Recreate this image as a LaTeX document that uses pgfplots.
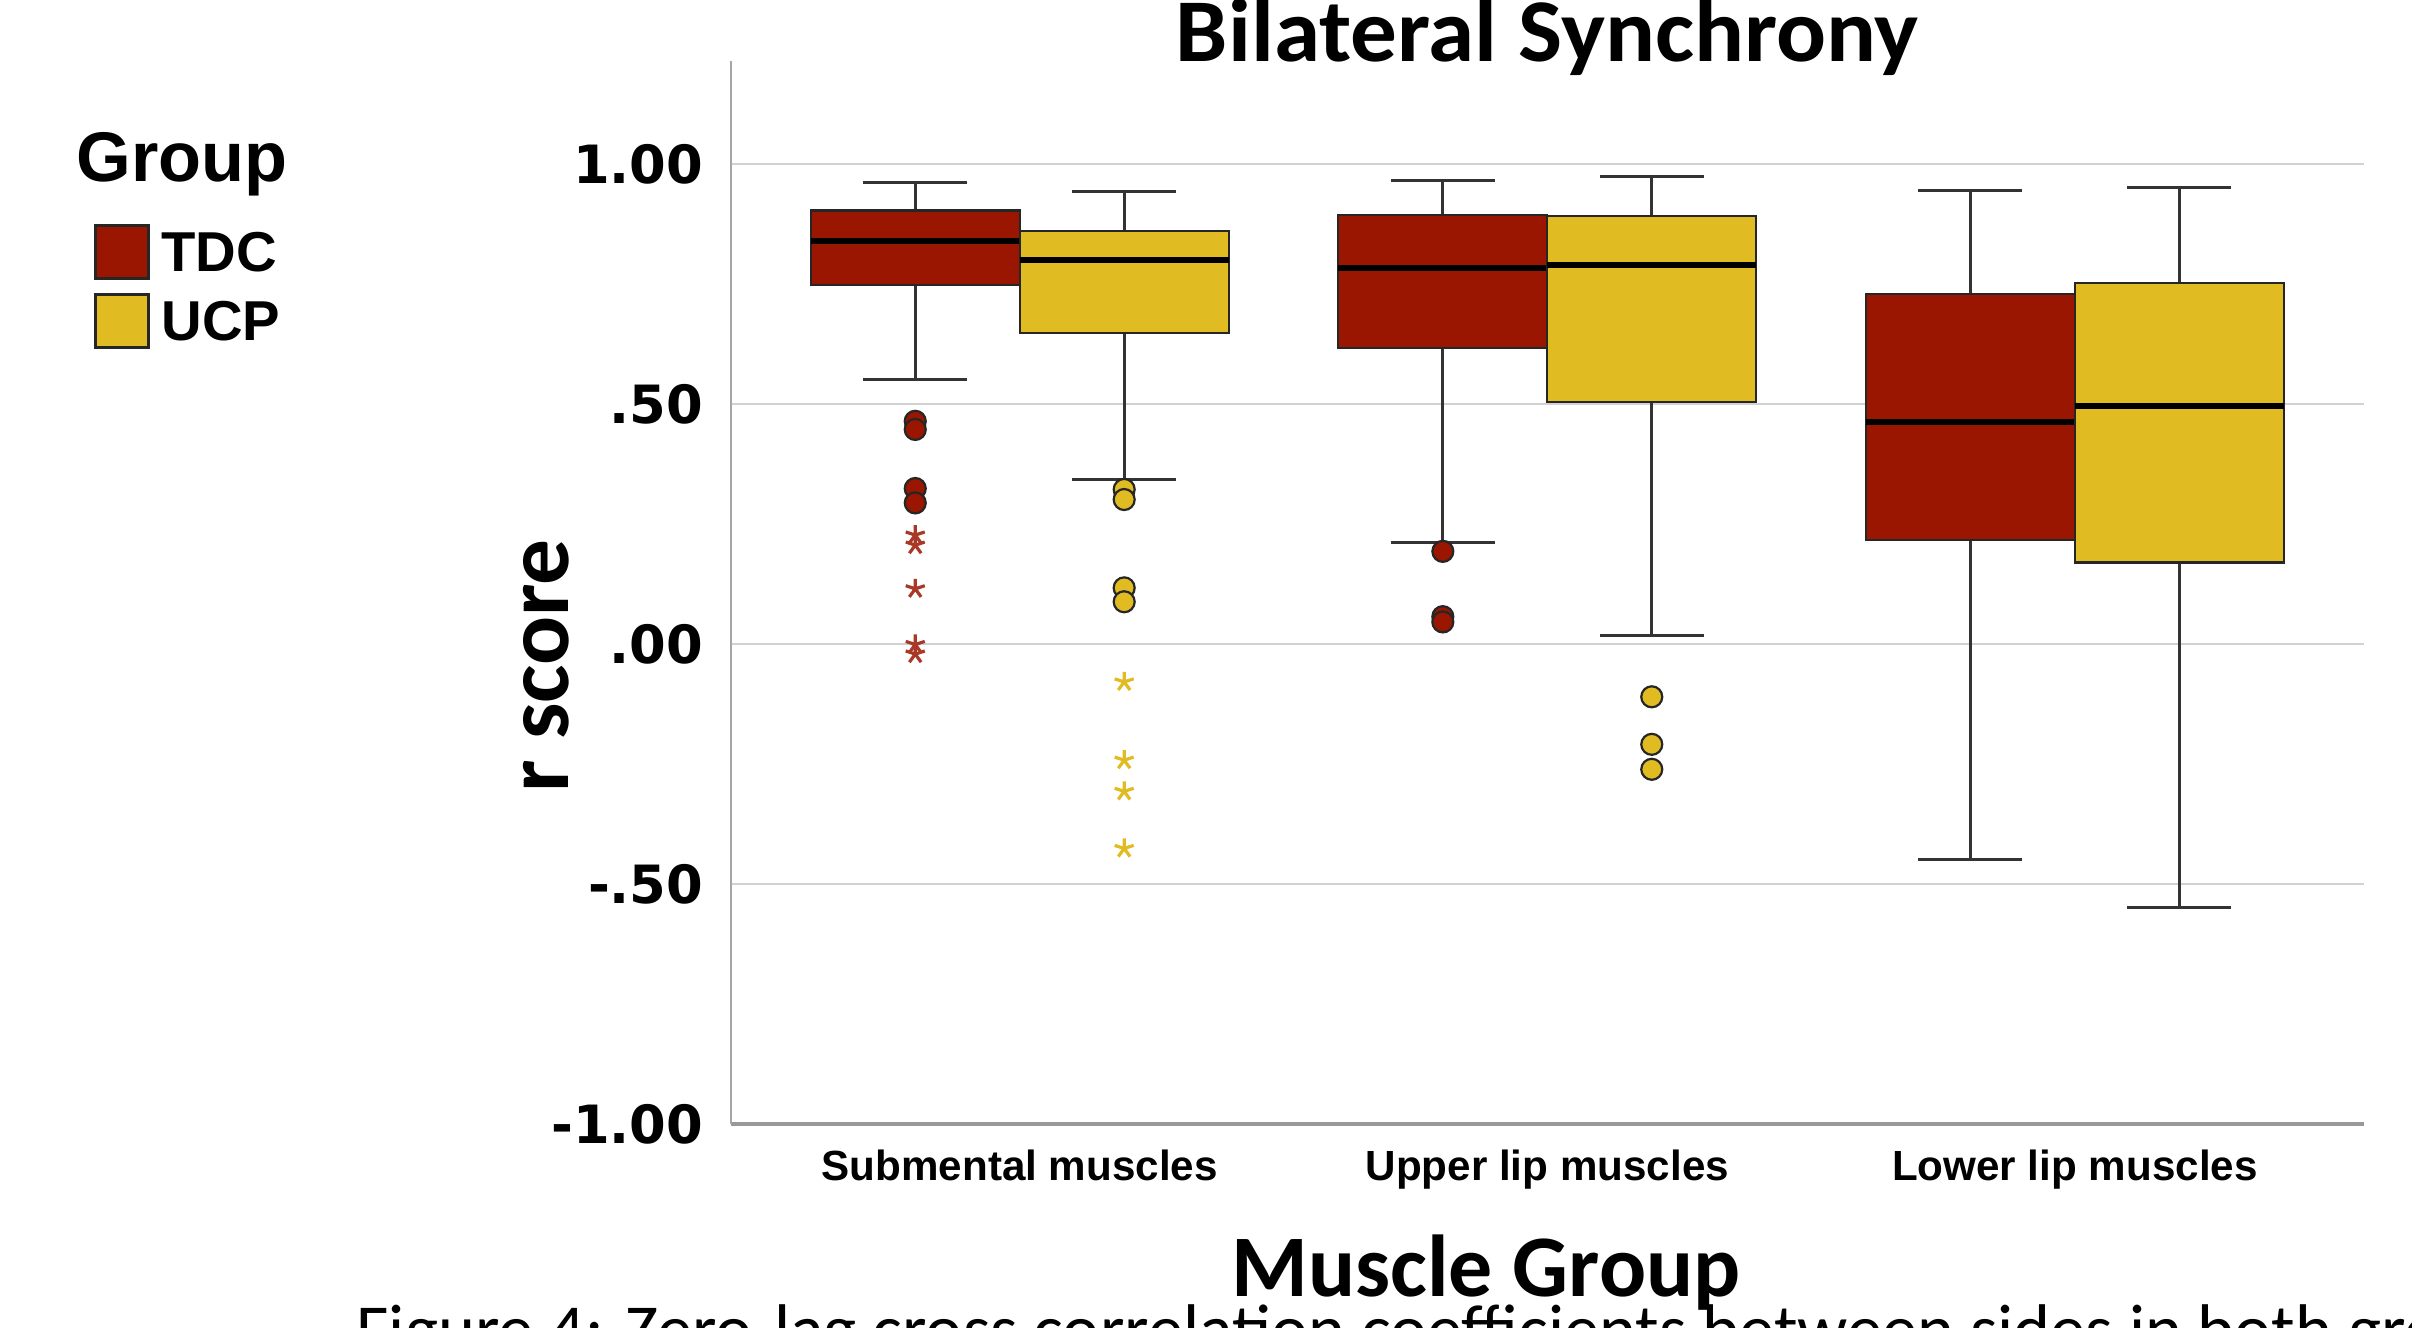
\documentclass[border=0pt]{standalone}
\usepackage{pgfplots}
\pgfplotsset{compat=1.18}
\usepgfplotslibrary{statistics}
\usepackage{fontspec}
\setmainfont{Carlito}
\newfontfamily\carlito{Carlito}
\newfontfamily\libsans{Liberation Sans}
\newfontfamily\dejavu{DejaVu Sans}
\definecolor{tdc}{RGB}{154,22,0}
\definecolor{ucp}{RGB}{224,188,34}
\newcommand{\ytickfont}{\dejavu\bfseries\fontsize{15}{18}\selectfont}
\newcommand{\xtickfont}{\libsans\bfseries\fontsize{12}{14}\selectfont}
\pgfplotsset{
  boxplot/every box/.style={draw=black!85, line width=0.22mm},
  boxplot/every whisker/.style={draw=black!80, line width=0.3mm},
  boxplot/every median/.style={draw=black, line width=0.6mm},
  boxplot/draw direction=y,
}
\begin{document}
\begin{tikzpicture}
\useasboundingbox (0,0) rectangle (241.2mm,132.8mm);
\clip (0,0) rectangle (241.2mm,132.8mm);
\begin{axis}[
  at={(73.06mm,20.35mm)}, anchor=south west,
  scale only axis, width=163.34mm, height=106.32mm,
  xmin=0.452, xmax=3.548, ymin=-1, ymax=1.215,
  axis lines*=left,
  x axis line style={draw=gray!80, line width=0.4mm},
  y axis line style={draw=gray!70, line width=0.2mm},
  xtick={1,2,3},
  xticklabels={Submental muscles, Upper lip muscles, Lower lip muscles},
  ytick={-1,-0.5,0,0.5,1},
  yticklabels={-1.00,-.50,.00,.50,1.00},
  major tick length=0pt,
  ymajorgrids, grid style={draw=gray!35, line width=0.2mm},
  xticklabel style={anchor=base, inner sep=0pt, yshift=-5.65mm, font=\xtickfont},
  yticklabel style={anchor=east, inner sep=0pt, xshift=-2.66mm, font=\ytickfont},
  every axis title shift=0pt,
  title={\scalebox{1.04}[1]{Bilateral Synchrony}},
  title style={at={(axis description cs:0.5,1)}, anchor=base, inner sep=0pt, font=\carlito\bfseries\fontsize{25.5}{30}\selectfont},
  xlabel={Muscle Group},
  xlabel style={at={(axis description cs:0.4625,0)}, anchor=base, inner sep=0pt, yshift=-17.25mm, font=\carlito\bfseries\fontsize{25}{30}\selectfont},
  ylabel={r score},
  ylabel style={at={(axis description cs:-0.1130,0.4313)}, anchor=center, inner sep=0pt, font=\carlito\bfseries\fontsize{26}{30}\selectfont},
  legend style={at={(axis description cs:-0.3900,0.8467)}, anchor=north west, draw=none, fill=none,
    inner sep=0pt, outer sep=0pt, row sep=1.3mm, column sep=1.2mm,
    nodes={inner sep=0pt, text depth=0pt, font=\libsans\bfseries\fontsize{16}{19}\selectfont}},
  legend cell align=left,
]
\addlegendimage{legend image code/.code={\draw[fill=tdc, draw=black!85, line width=0.3mm] (0mm,-2.65mm) rectangle (5.3mm,2.65mm);}}
\addlegendentry{TDC}
\addlegendimage{legend image code/.code={\draw[fill=ucp, draw=black!85, line width=0.3mm] (0mm,-2.65mm) rectangle (5.3mm,2.65mm);}}
\addlegendentry{UCP}

% Submental muscles
\addplot[forget plot, fill=tdc, boxplot prepared={draw position=0.802, lower whisker=0.553, lower quartile=0.749, median=0.840, upper quartile=0.904, upper whisker=0.962, box extend=0.396, whisker extend=0.197}] coordinates {};
\addplot[forget plot, fill=ucp, boxplot prepared={draw position=1.198, lower whisker=0.344, lower quartile=0.649, median=0.802, upper quartile=0.861, upper whisker=0.944, box extend=0.396, whisker extend=0.197}] coordinates {};
% Upper lip muscles
\addplot[forget plot, fill=tdc, boxplot prepared={draw position=1.802, lower whisker=0.213, lower quartile=0.617, median=0.785, upper quartile=0.894, upper whisker=0.967, box extend=0.396, whisker extend=0.197}] coordinates {};
\addplot[forget plot, fill=ucp, boxplot prepared={draw position=2.198, lower whisker=0.019, lower quartile=0.505, median=0.791, upper quartile=0.892, upper whisker=0.976, box extend=0.396, whisker extend=0.197}] coordinates {};
% Lower lip muscles
\addplot[forget plot, fill=tdc, boxplot prepared={draw position=2.802, lower whisker=-0.448, lower quartile=0.218, median=0.463, upper quartile=0.730, upper whisker=0.946, box extend=0.396, whisker extend=0.197}] coordinates {};
\addplot[forget plot, fill=ucp, boxplot prepared={draw position=3.198, lower whisker=-0.548, lower quartile=0.171, median=0.497, upper quartile=0.753, upper whisker=0.952, box extend=0.396, whisker extend=0.197}] coordinates {};

% outliers (circles)
\addplot[forget plot, only marks, mark=*, mark size=1.05mm, mark options={fill=tdc, draw=black!85, line width=0.22mm}]
  coordinates {(0.802,0.465) (0.802,0.448) (0.802,0.325) (0.802,0.295) (1.802,0.194) (1.802,0.058) (1.802,0.047)};
\addplot[forget plot, only marks, mark=*, mark size=1.05mm, mark options={fill=ucp, draw=black!85, line width=0.22mm}]
  coordinates {(1.198,0.323) (1.198,0.302) (1.198,0.118) (1.198,0.089) (2.198,-0.109) (2.198,-0.208) (2.198,-0.260)};
% extreme values (stars)
\addplot[forget plot, only marks, mark=star, mark size=1.0mm, color=tdc!85!white, line width=0.32mm]
  coordinates {(0.802,0.228) (0.802,0.207) (0.802,0.116) (0.802,0.000) (0.802,-0.020)};
\addplot[forget plot, only marks, mark=star, mark size=1.0mm, color=ucp, line width=0.32mm]
  coordinates {(1.198,-0.078) (1.198,-0.241) (1.198,-0.306) (1.198,-0.425)};
\end{axis}
\node[anchor=base west, inner sep=0pt, font=\libsans\bfseries\fontsize{20}{24}\selectfont] at (7.6mm,114.6mm) {Group};
\node[anchor=base west, inner sep=0pt, font=\carlito\fontsize{20}{24}\selectfont] at (35.6mm,-2.6mm) {Figure 4: Zero-lag cross correlation coefficients between sides in both groups};
\end{tikzpicture}
\end{document}
